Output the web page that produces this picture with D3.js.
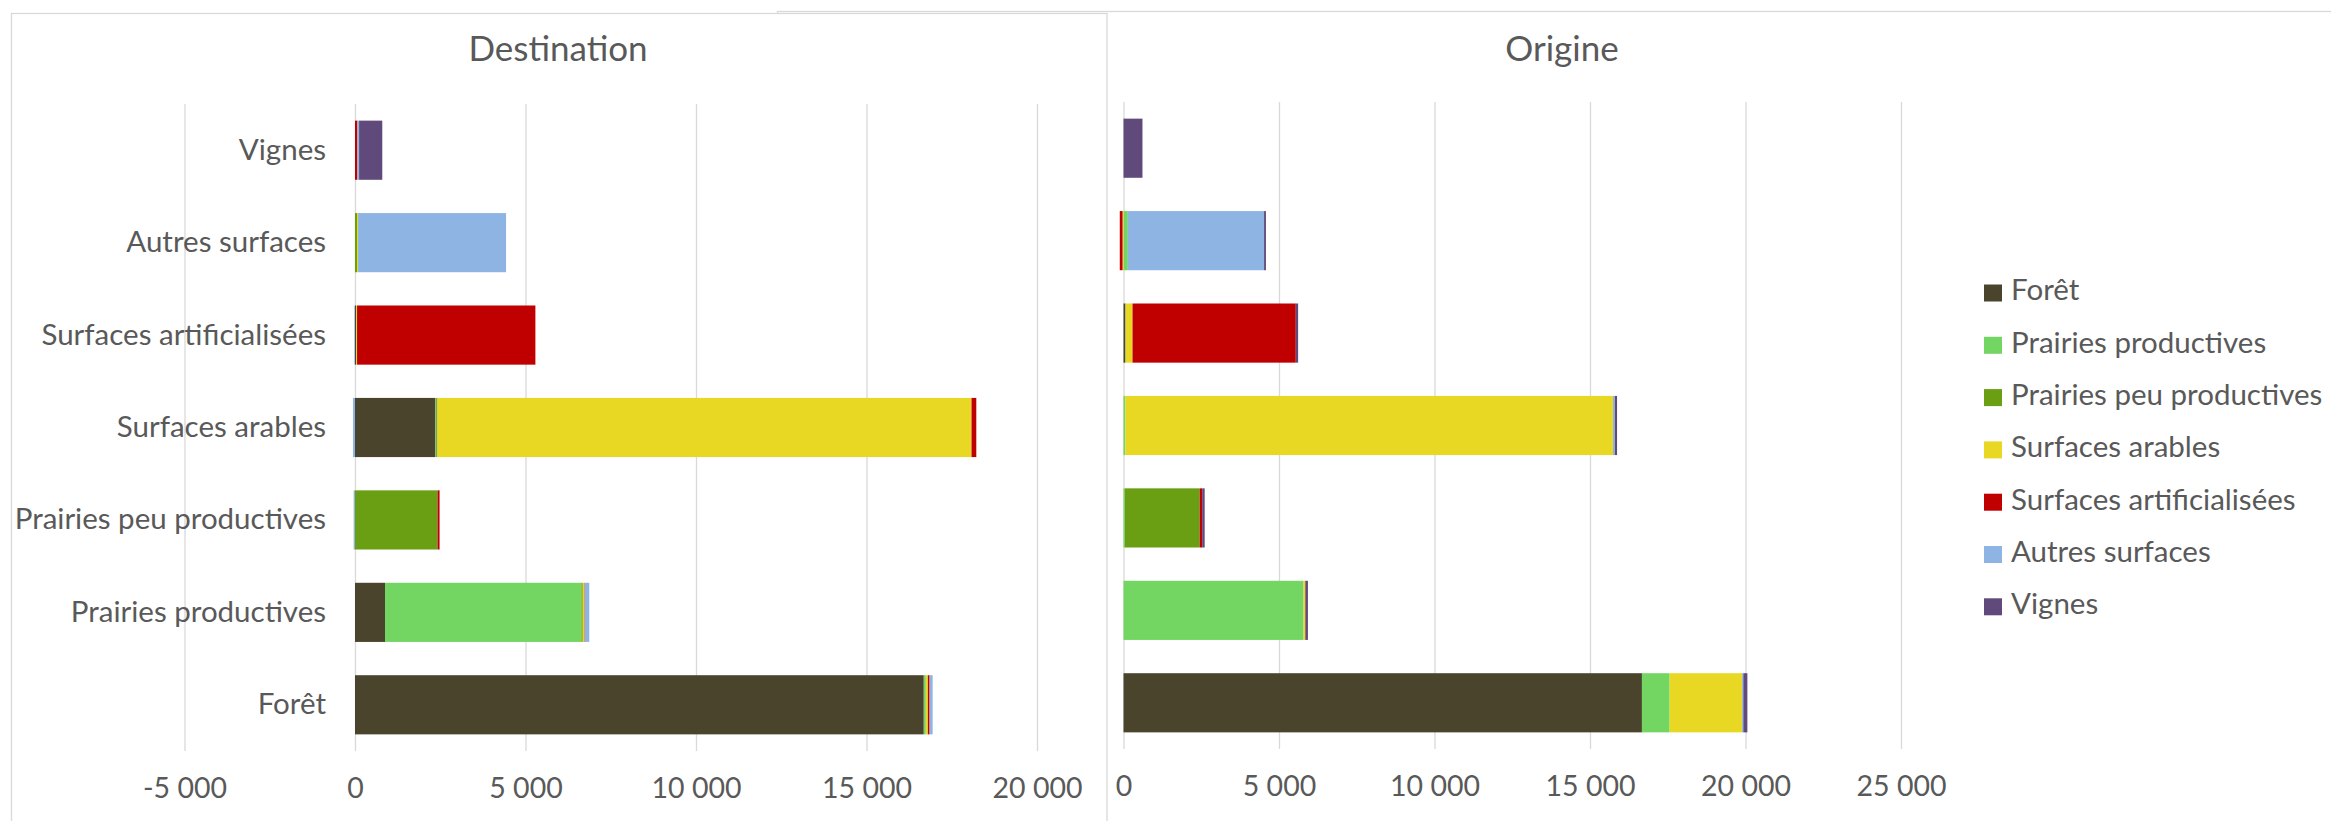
<!DOCTYPE html>
<html>
<head>
<meta charset="utf-8">
<script src="https://cdn.jsdelivr.net/npm/d3@7"></script>
<style>
  body { margin: 0; background: #fff; }
  svg text { font-family: Lato, "Open Sans", sans-serif; fill: #595959; }
</style>
</head>
<body>
<div id="chart"></div>
<script>
// categories, bottom to top as in the chart
var categories = ["Forêt", "Prairies productives", "Prairies peu productives", "Surfaces arables",
    "Surfaces artificialisées", "Autres surfaces", "Vignes"];
var seriesNames = ["Forêt", "Prairies productives", "Prairies peu productives", "Surfaces arables",
    "Surfaces artificialisées", "Autres surfaces", "Vignes"];
var seriesColors = ["#4A442D", "#73D663", "#6A9E13", "#E8D824", "#C00000", "#8EB4E3", "#604A7B"];

// Destination: one array per series, one value per category
var destForet   = [16680,  880,    0,  2360,   30,    0,   0];
var destPP      = [   50, 5760,    0,    20,    0,    0,   0];
var destPPP     = [   10,   40, 2420,    40,    0,   60,   0];
var destArables = [   60,   50,    0, 15660,   30,   30,   0];
var destArtif   = [   50,   10,   60,   140, 5230,    0,  70];
var destAutres  = [   90,  130,  -40,   -60,  -20, 4340,  50];
var destVignes  = [    0,    0,    0,     0,    0,    0, 680];

// Origine
var origForet   = [16670,    0,    0,     0,   60,    0,   0];
var origPP      = [  890, 5790,   40,    60,    0,  140,   0];
var origPPP     = [    0,    0, 2410,     0,   10,    0,   0];
var origArables = [ 2330,   50,    0, 15680,  220,  -30,   0];
var origArtif   = [    0,   10,   80,     0, 5250,  -90,   0];
var origAutres  = [   40,    0,    0,    60,    0, 4380,   0];
var origVignes  = [  130,   80,   80,    70,   75,   60, 610];

var destTicks = [-5000, 0, 5000, 10000, 15000, 20000];
var origTicks = [0, 5000, 10000, 15000, 20000, 25000];

var W = 2331, H = 821;
var fr = d3.formatLocale({decimal: ",", thousands: " ", grouping: [3], currency: ["", " €"], minus: "-"});
var fmt = fr.format(",d");

var svg = d3.select("#chart").append("svg")
    .attr("width", W).attr("height", H);

// chart frames (right one sits behind the left one)
svg.append("rect").attr("x", 777.5).attr("y", 11.5).attr("width", 1700).attr("height", 900)
    .attr("fill", "#fff").attr("stroke", "#D9D9D9").attr("stroke-width", 1.3);
svg.append("rect").attr("x", 11.5).attr("y", 13.5).attr("width", 1095.5).attr("height", 900)
    .attr("fill", "#fff").attr("stroke", "#D9D9D9").attr("stroke-width", 1.3);

function rows(arrays) {
    return categories.map(function(c, i) {
        var r = {cat: c};
        seriesNames.forEach(function(s, j) { r[s] = arrays[j][i]; });
        return r;
    });
}

function drawPanel(opt) {
    var x = d3.scaleLinear().domain(opt.domain).range(opt.xRange);
    var y = d3.scaleBand().domain(categories).range([opt.yRange[1], opt.yRange[0]])
        .paddingInner(0.36).paddingOuter(0.18);
    var color = d3.scaleOrdinal().domain(seriesNames).range(seriesColors);

    var g = svg.append("g");

    g.append("text")
        .attr("x", opt.titleX).attr("y", 52)
        .attr("text-anchor", "middle").attr("dominant-baseline", "middle")
        .style("font-size", "35px")
        .text(opt.title);

    var grid = g.append("g")
        .attr("transform", "translate(0," + opt.yRange[1] + ")")
        .call(d3.axisBottom(x).tickValues(opt.ticks).tickFormat(fmt)
            .tickSize(-(opt.yRange[1] - opt.yRange[0])).tickPadding(27));
    grid.select(".domain").remove();
    grid.selectAll(".tick line").attr("stroke", "#D9D9D9").attr("stroke-width", 1.3);
    grid.selectAll(".tick text").style("font-size", "28.5px").attr("fill", "#595959");

    var stack = d3.stack().keys(seriesNames).offset(d3.stackOffsetDiverging);
    var layers = stack(rows(opt.data));

    g.selectAll(".layer").data(layers).enter().append("g")
        .attr("fill", function(d) { return color(d.key); })
        .selectAll("rect").data(function(d) { return d; })
        .enter().append("rect")
        .attr("x", function(d) { return x(Math.min(d[0], d[1])); })
        .attr("width", function(d) { return Math.abs(x(d[1]) - x(d[0])); })
        .attr("y", function(d) { return y(d.data.cat); })
        .attr("height", y.bandwidth());

    if (opt.labels) {
        var yAxis = g.append("g")
            .attr("transform", "translate(" + (x(0) - 29) + ",0)")
            .call(d3.axisLeft(y).tickSize(0).tickPadding(0));
        yAxis.select(".domain").remove();
        yAxis.selectAll("text").style("font-size", "29.5px").attr("fill", "#595959");
    }
}

drawPanel({
    title: "Destination", titleX: 558,
    domain: [-5000, 20000], xRange: [184.5, 1037], yRange: [104, 751],
    ticks: destTicks, labels: true,
    data: [destForet, destPP, destPPP, destArables, destArtif, destAutres, destVignes]
});

drawPanel({
    title: "Origine", titleX: 1562,
    domain: [0, 25000], xRange: [1123.5, 1901], yRange: [102, 749],
    ticks: origTicks, labels: false,
    data: [origForet, origPP, origPPP, origArables, origArtif, origAutres, origVignes]
});

// legend
var legend = svg.selectAll(".legend").data(seriesNames).enter().append("g")
    .attr("class", "legend")
    .attr("transform", function(d, i) { return "translate(1984," + (293 + i * 52.3) + ")"; });
legend.append("rect")
    .attr("x", 0).attr("y", -8.5).attr("width", 18).attr("height", 17)
    .attr("fill", function(d, i) { return seriesColors[i]; });
legend.append("text")
    .attr("x", 27).attr("y", 0).attr("dominant-baseline", "middle")
    .style("font-size", "29.5px")
    .text(function(d) { return d; });
</script>
</body>
</html>
